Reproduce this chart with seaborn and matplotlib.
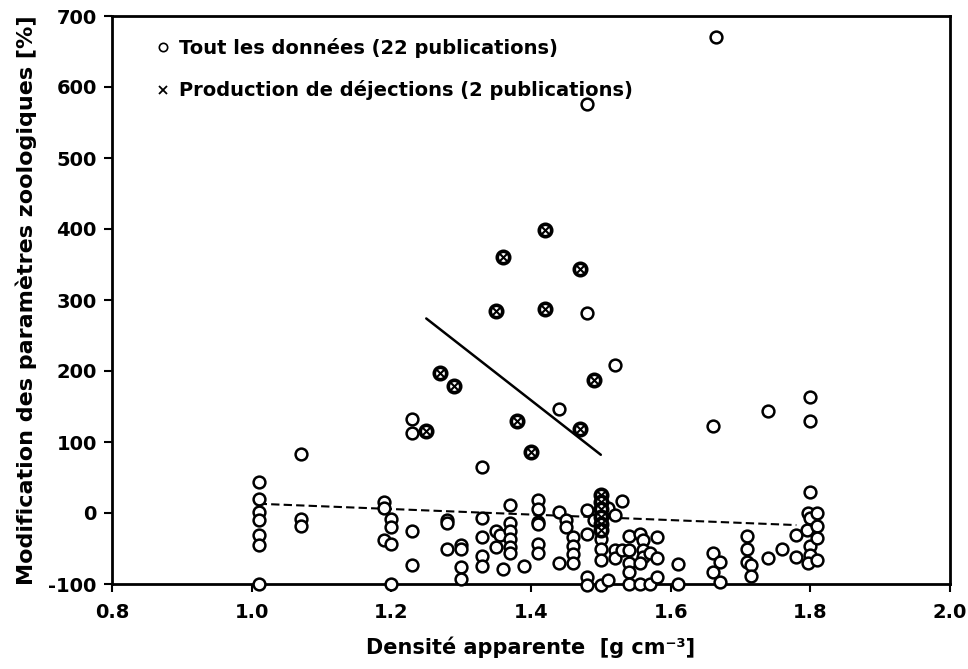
import matplotlib
matplotlib.use("Agg")
import matplotlib.pyplot as plt
import seaborn as sns
from matplotlib.lines import Line2D

# ---- data ----
all_x = [1.01, 1.01, 1.01, 1.01, 1.01, 1.01, 1.01,
         1.07, 1.07, 1.07,
         1.19, 1.19, 1.20, 1.20, 1.19, 1.20, 1.20,
         1.23, 1.23, 1.23, 1.23,
         1.28, 1.28, 1.28,
         1.30, 1.30, 1.30, 1.30,
         1.33, 1.33, 1.33, 1.33, 1.33,
         1.35, 1.355, 1.35, 1.36,
         1.37, 1.37, 1.37, 1.37, 1.37, 1.37,
         1.39,
         1.41, 1.41, 1.41, 1.41, 1.41, 1.41,
         1.44, 1.44, 1.44,
         1.45, 1.45,
         1.46, 1.46, 1.46, 1.46,
         1.48, 1.48, 1.48, 1.48, 1.48, 1.48,
         1.49, 1.50, 1.50, 1.50, 1.50,
         1.51, 1.51,
         1.52, 1.52, 1.52, 1.52,
         1.53, 1.53,
         1.54, 1.54, 1.54, 1.54, 1.54,
         1.556, 1.561, 1.561, 1.561, 1.556, 1.556,
         1.57, 1.57,
         1.58, 1.58, 1.58,
         1.61, 1.61,
         1.665, 1.66, 1.66, 1.67, 1.66, 1.67,
         1.71, 1.71, 1.71, 1.715, 1.715,
         1.74, 1.74,
         1.76,
         1.78, 1.78,
         1.80, 1.80, 1.80, 1.797, 1.80, 1.795, 1.80, 1.80, 1.797,
         1.81, 1.81, 1.81, 1.81]
all_y = [44, 20, 2, -10, -31, -45, -100,
         83, -9, -18,
         16, 7, -9, -20, -38, -43, -100,
         133, 113, -26, -73,
         -10, -14, -50,
         -45, -50, -76, -93,
         65, -7, -34, -61, -75,
         -26, -31, -48, -79,
         11, -14, -26, -37, -48, -56,
         -74,
         19, 5, -12, -15, -43, -56,
         147, 2, -71,
         -10, -20,
         -34, -46, -58, -70,
         576, 282, 4, -29, -90, -101,
         -10, -36, -50, -66, -101,
         7, -94,
         208, -3, -52, -64,
         17, -52,
         -33, -52, -71, -83, -100,
         -29, -38, -52, -62, -71, -100,
         -56, -100,
         -34, -64, -90,
         -72, -100,
         670, 122, -57, -69, -83, -97,
         -33, -50, -69, -73, -89,
         143, -63,
         -50,
         -31, -62,
         164, 130, 29, 0, -7, -24, -47, -59, -71,
         0, -19, -35, -66]

dej_x = [1.25, 1.27, 1.29, 1.35, 1.36, 1.38, 1.40, 1.42, 1.42, 1.47, 1.47, 1.49,
         1.50, 1.50, 1.50, 1.50, 1.50, 1.50]
dej_y = [115, 197, 179, 285, 361, 130, 86, 399, 288, 343, 118, 188,
         25, 15, 5, -5, -15, -24]

trend_all_x = [1.01, 1.78]
trend_all_y = [13, -17]
trend_dej_x = [1.25, 1.50]
trend_dej_y = [274, 82]

x_ticks = [0.8, 1.0, 1.2, 1.4, 1.6, 1.8, 2.0]
y_ticks = [-100, 0, 100, 200, 300, 400, 500, 600, 700]

label_all = "Tout les données (22 publications)"
label_dej = "Production de déjections (2 publications)"
x_label = "Densité apparente  [g cm⁻³]"
y_label = "Modification des paramètres zoologiques [%]"

# ---- style ----
sns.set_theme(style="ticks")
plt.rcParams["font.family"] = ["DejaVu Sans"]
plt.rcParams["font.weight"] = "bold"
for key in ["text.color", "axes.labelcolor", "xtick.color", "ytick.color",
            "axes.edgecolor"]:
    plt.rcParams[key] = "black"

fig = plt.figure(figsize=(9.68, 6.69), dpi=100)
ax = fig.add_axes([112 / 968, 1 - 584 / 669, 838 / 968, 568 / 669])

sns.lineplot(x=trend_all_x, y=trend_all_y, ax=ax, color="black", lw=1.5,
             linestyle=(0, (4, 2)), estimator=None, sort=False, zorder=2)
sns.lineplot(x=trend_dej_x, y=trend_dej_y, ax=ax, color="black", lw=1.8,
             estimator=None, sort=False, zorder=2)

sns.scatterplot(x=all_x, y=all_y, ax=ax, marker="o", s=72, color="white",
                edgecolor="black", linewidth=1.8, zorder=3, clip_on=False)
sns.scatterplot(x=dej_x, y=dej_y, ax=ax, marker="o", s=80, color="white",
                edgecolor="black", linewidth=2.6, zorder=4, clip_on=False)
sns.scatterplot(x=dej_x, y=dej_y, ax=ax, marker="x", s=34, color="black",
                linewidth=1.5, zorder=5, clip_on=False)

ax.set_xlim(0.8, 2.0)
ax.set_ylim(-100, 700)
ax.set_xticks(x_ticks)
ax.set_yticks(y_ticks)
ax.set_xticklabels([f"{v:.1f}" for v in x_ticks])
ax.set_yticklabels([str(v) for v in y_ticks])
ax.tick_params(axis="both", direction="out", length=6, width=1.5,
               labelsize=14, color="black", labelcolor="black")
ax.tick_params(axis="x", pad=8)
ax.tick_params(axis="y", pad=5)
for lab in ax.get_xticklabels() + ax.get_yticklabels():
    lab.set_fontweight("bold")
for sp in ax.spines.values():
    sp.set_visible(True)
    sp.set_linewidth(2)
    sp.set_color("black")

ax.set_xlabel(x_label, fontsize=15, fontweight="bold", labelpad=10)
ax.set_ylabel(y_label, fontsize=16, fontweight="bold", labelpad=8)

handles = [
    Line2D([], [], marker="o", ls="none", ms=6, mfc="white", mec="black", mew=1.2),
    Line2D([], [], marker="x", ls="none", ms=6, mec="black", mew=1.3),
]
leg = ax.legend(handles, [label_all, label_dej], loc="upper left",
                bbox_to_anchor=(0.04, 0.975), frameon=False,
                prop={"size": 14, "weight": "bold"}, handletextpad=0.3,
                handlelength=1.0, labelspacing=1.15, borderaxespad=0)

fig.savefig("out.png", dpi=100)
